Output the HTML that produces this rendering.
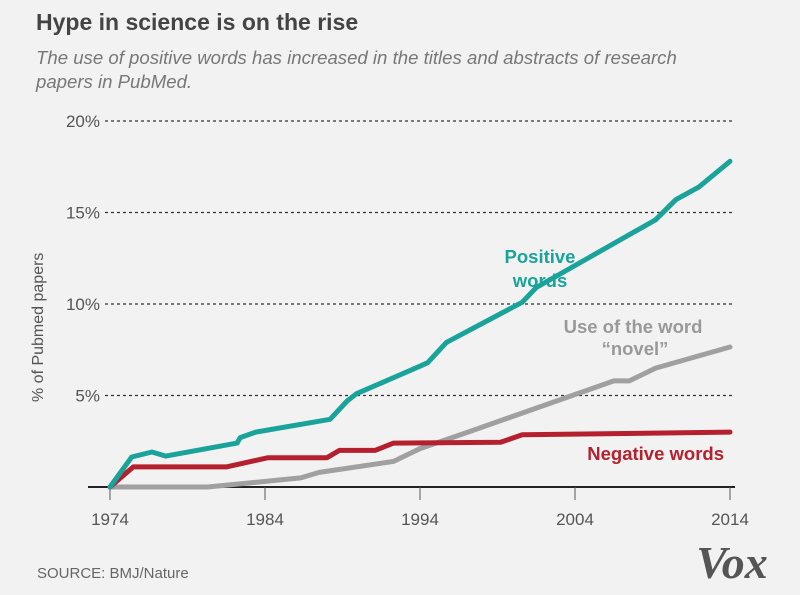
<!DOCTYPE html>
<html><head><meta charset="utf-8"><style>
body{margin:0;background:#f2f2f2;}
svg{display:block;font-family:"Liberation Sans",sans-serif;}
</style></head><body>
<svg width="800" height="595" viewBox="0 0 800 595">
<rect width="800" height="595" fill="#f2f2f2"/>
<text x="36" y="30" font-size="23" font-weight="bold" fill="#444">Hype in science is on the rise</text>
<text x="36" y="64" font-size="18.6" font-style="italic" fill="#777">The use of positive words has increased in the titles and abstracts of research</text>
<text x="36" y="88" font-size="18.6" font-style="italic" fill="#777">papers in PubMed.</text>
<text transform="translate(43,402) rotate(-90)" font-size="16" fill="#555">% of Pubmed papers</text>
<g id="grid"></g>
<g id="series"></g>
<text x="540" y="263" font-size="18.5" font-weight="bold" fill="#1aa39a" text-anchor="middle">Positive</text>
<text x="540" y="287" font-size="18.5" font-weight="bold" fill="#1aa39a" text-anchor="middle">words</text>
<text x="633" y="333" font-size="18.5" font-weight="bold" fill="#999" text-anchor="middle">Use of the word</text>
<text x="635" y="355" font-size="18.5" font-weight="bold" fill="#999" text-anchor="middle">“novel”</text>
<text x="724" y="460" font-size="18.5" font-weight="bold" fill="#b5202e" text-anchor="end">Negative words</text>
<text x="37" y="578" font-size="15" fill="#666">SOURCE: BMJ/Nature</text>
<text x="732" y="578" font-size="46" font-weight="bold" font-style="italic" fill="#555" text-anchor="middle" font-family="Liberation Serif,serif">Vox</text>
</svg>
<script>
const yTicks=[5,10,15,20];
const yTickLabels=["5%","10%","15%","20%"];
const xTicks=[1974,1984,1994,2004,2014];
const posYears=[1974,1975.4,1976.7,1977.6,1982.2,1982.4,1983.4,1988.2,1989.3,1989.9,1994,1994.5,1995.7,2000.6,2001.5,2009.2,2010.5,2012,2014];
const posVals=[0,1.64,1.91,1.69,2.4,2.7,3.0,3.7,4.7,5.1,6.6,6.8,7.9,10.1,10.9,14.6,15.7,16.4,17.8];
const novYears=[1974,1980.3,1986.3,1987.5,1992.3,1994,1997.1,2006.5,2007.5,2009.2,2014];
const novVals=[0,0,0.5,0.8,1.4,2.1,3.0,5.8,5.8,6.5,7.65];
const negYears=[1974,1975.5,1981.5,1984.2,1988,1988.8,1991.1,1992.3,1999.2,2000.6,2014];
const negVals=[0,1.1,1.1,1.6,1.6,2.0,2.0,2.4,2.45,2.85,3.0];
const NS="http://www.w3.org/2000/svg";
const x=y=>110+(y-1974)*15.5;
const yv=v=>487-v*18.3;
const grid=document.getElementById('grid');
function mk(t,a,p){const e=document.createElementNS(NS,t);for(const k in a)e.setAttribute(k,a[k]);p.appendChild(e);return e;}
yTicks.forEach((t,i)=>{
 const l=mk('line',{x1:105,x2:733,y1:yv(t),y2:yv(t),stroke:'#333','stroke-width':1.3,'stroke-dasharray':'3,3'},grid);
 
 
 const tx=mk('text',{x:100,y:yv(t)+6,'font-size':17,fill:'#555','text-anchor':'end'},grid);
 tx.textContent=yTickLabels[i];
 
 
});
const ax=mk('line',{x1:88,x2:735,y1:487,y2:487,stroke:'#222','stroke-width':2},grid);


xTicks.forEach(t=>{
 const l=mk('line',{x1:x(t),x2:x(t),y1:487,y2:500,stroke:'#555','stroke-width':1},grid);
 
 
 const tx=mk('text',{x:x(t),y:525,'font-size':17,fill:'#555','text-anchor':'middle'},grid);
 tx.textContent=t;
 
 
});
const sg=document.getElementById('series');
function line(ys,vs,c,n){
 const d=ys.map((yy,i)=>(i?'L':'M')+x(yy).toFixed(1)+','+yv(vs[i]).toFixed(1)).join('');
 const p=mk('path',{d:d,fill:'none',stroke:c,'stroke-width':5,'stroke-linejoin':'round','stroke-linecap':'round'},sg);
 
 
}
line(novYears,novVals,'#a0a0a0','line-novel');
line(negYears,negVals,'#b5202e','line-negative');
line(posYears,posVals,'#1aa39a','line-positive');
</script>
</body></html>
